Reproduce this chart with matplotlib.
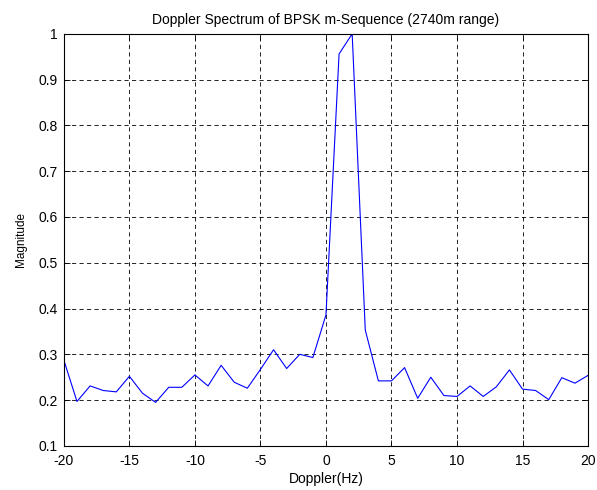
import matplotlib
matplotlib.use('Agg')
import matplotlib.pyplot as plt

# Doppler bins (Hz) and normalised magnitude
doppler = list(range(-20, 21))
magnitude = [0.287, 0.197, 0.231, 0.221, 0.218, 0.252, 0.215, 0.195, 0.228, 0.228,
             0.255, 0.231, 0.276, 0.239, 0.226, 0.267, 0.310, 0.269, 0.300, 0.293,
             0.386, 0.956, 1.000, 0.353, 0.242, 0.242, 0.271, 0.204, 0.250, 0.210,
             0.208, 0.231, 0.208, 0.229, 0.266, 0.224, 0.221, 0.201, 0.249, 0.237,
             0.254]

plt.rcParams['font.family'] = ['Liberation Sans', 'DejaVu Sans']
plt.rcParams['font.size'] = 10
plt.rcParams['axes.unicode_minus'] = False

fig = plt.figure(figsize=(5.97, 4.90), dpi=100)
ax = fig.add_axes([0.107, 0.090, 0.878, 0.841])
ax.plot(doppler, magnitude, color='#0000ff', linewidth=0.8)
ax.set_xlim(-20, 20)
ax.set_ylim(0.1, 1)
ax.set_xticks(range(-20, 21, 5))
ax.set_yticks([0.1, 0.2, 0.3, 0.4, 0.5, 0.6, 0.7, 0.8, 0.9, 1])
ax.set_yticklabels(['0.1', '0.2', '0.3', '0.4', '0.5', '0.6', '0.7', '0.8', '0.9', '1'])
ax.tick_params(direction='in', top=True, right=True, length=4, width=0.6, labelsize=10)
ax.tick_params(axis='x', pad=5.5)
ax.tick_params(axis='y', pad=4.3)
ax.grid(True, color='black', linestyle=(0, (5, 4)), linewidth=0.6)
for s in ax.spines.values():
    s.set_linewidth(0.8)
ax.set_xlabel('Doppler(Hz)', fontsize=10, labelpad=3)
ax.set_ylabel('Magnitude', fontsize=8.5, labelpad=8)
ax.set_title('Doppler Spectrum of BPSK m-Sequence (2740m range)', fontsize=10, pad=7)
fig.savefig('out.png', dpi=100)
